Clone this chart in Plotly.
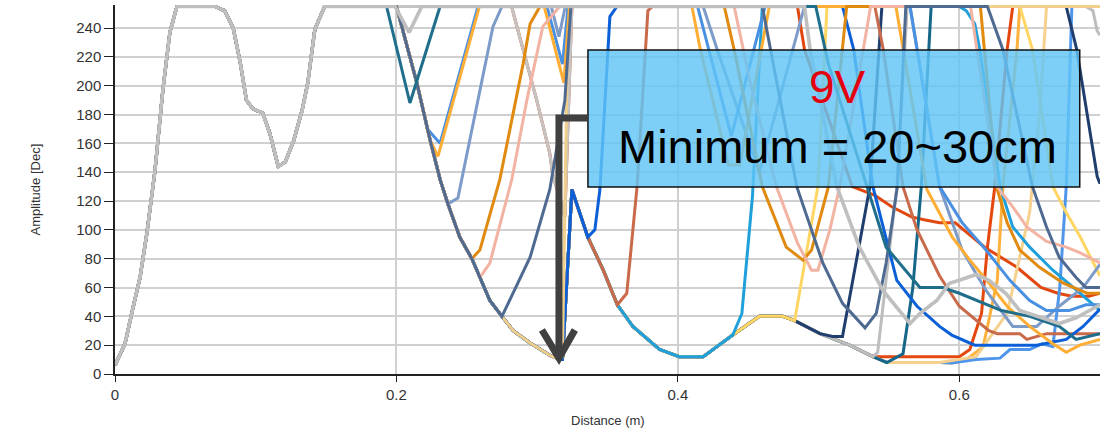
import plotly.graph_objects as go

# ---------------- data ----------------
# shared start of every trace (the grey curve)
BASE_X = [0, 0.0071, 0.0128, 0.0178, 0.0227, 0.0284, 0.034, 0.039, 0.044, 0.071, 0.078, 0.084,
          0.089, 0.0934, 0.098, 0.105, 0.110, 0.116, 0.121, 0.127, 0.133, 0.137, 0.142, 0.149]
BASE_Y = [6, 21, 46, 67, 98, 141, 197, 237, 255, 255, 252, 240,
          216, 190, 184, 181, 167, 144, 147, 162, 183, 202, 239, 255]

# first common descending envelope
ENV1_X = [0.200, 0.2145, 0.224, 0.231, 0.2366, 0.245, 0.2536, 0.2593, 0.2664, 0.275, 0.283, 0.295, 0.309, 0.316]
ENV1_Y = [255, 202, 162, 135, 118, 95, 80, 67, 51, 40, 30, 21.5, 13, 10]

# second common envelope (after the first minimum)
ENV2_X = [0.318, 0.3247, 0.336, 0.347, 0.357, 0.368, 0.387, 0.401, 0.418, 0.439, 0.458, 0.4746,
          0.483, 0.501, 0.522, 0.5386, 0.5485, 0.586, 0.5947]
ENV2_Y = [10, 128, 95, 72, 48, 33, 17, 12, 12, 27, 40, 40,
          37, 28, 20, 12, 8, 8, 7.6]

# individual tails
RED1_X = [0.2818, 0.29, 0.2997, 0.309, 0.311, 0.3197, 0.3247, 0.485, 0.49, 0.524, 0.54, 0.552, 0.566,
          0.575, 0.586, 0.597, 0.618, 0.641, 0.658, 0.67, 0.68, 0.692, 0.7]
RED1_Y = [255, 225, 190, 153, 139, 109, 255, 255, 225, 130, 124, 116, 109,
          107, 105, 105, 88, 74, 60, 56, 54, 54, 56]
GRAY3_X = [0.2818, 0.29, 0.2997, 0.309, 0.311, 0.3197, 0.3247, 0.7]
GRAY3_Y = [255, 225, 190, 153, 139, 109, 255, 255]
RED2_X = [0.5386, 0.586, 0.6, 0.6075, 0.6158, 0.62, 0.625, 0.634, 0.638, 0.7]
RED2_Y = [12, 12, 12, 17, 42, 88, 128, 225, 255, 255]
LORANGE2_X = [0.605, 0.617, 0.627, 0.631, 0.641, 0.643, 0.7]
LORANGE2_Y = [10, 19, 65, 130, 225, 255, 255]
LBLUE2_X = [0.612, 0.629, 0.636, 0.65, 0.659, 0.6665, 0.6714, 0.676, 0.68, 0.7]
LBLUE2_Y = [10, 11, 17, 17, 21, 19, 60, 130, 255, 255]
TAN2_X = [0.612, 0.634, 0.65, 0.657, 0.662, 0.7]
TAN2_Y = [12, 42, 112, 180, 255, 255]
TEAL2_X = [0.56, 0.567, 0.573, 0.58, 0.7]
TEAL2_Y = [14, 60, 130, 255, 255]
GRAY2_X = [0.542, 0.5556, 0.563, 0.69, 0.695, 0.698, 0.7]
GRAY2_Y = [15, 130, 255, 255, 252, 238, 235]
NAVY_X = [0.51, 0.517, 0.5365, 0.545, 0.676, 0.6835, 0.698, 0.7]
NAVY_Y = [26, 26, 130, 255, 255, 225, 137, 132]
YELLOW_X = [0.4995, 0.506, 0.643, 0.652, 0.6665, 0.676, 0.686, 0.7]
YELLOW_Y = [130, 255, 255, 225, 130, 112, 95, 68]
CYAN_X = [0.4455, 0.453, 0.46, 0.6, 0.605, 0.611, 0.6146, 0.629, 0.638, 0.65, 0.6665, 0.6835, 0.7]
CYAN_Y = [42, 123, 255, 255, 252, 243, 225, 130, 102, 88, 72, 58, 44]
TERRA_X = [0.3637, 0.371, 0.3787, 0.382, 0.54, 0.546, 0.56, 0.57, 0.586, 0.6, 0.621, 0.627, 0.643,
           0.648, 0.662, 0.7]
TERRA_Y = [56, 130, 252, 255, 255, 225, 130, 100, 68, 47, 30, 28, 28,
           24, 28, 28]
BLUE_X = [0.318, 0.3247, 0.336, 0.341, 0.3446, 0.3517, 0.3567, 0.517, 0.525, 0.5386, 0.5556, 0.57,
          0.586, 0.5947, 0.602, 0.611, 0.655, 0.676, 0.688, 0.7]
BLUE_Y = [10, 128, 95, 100, 128, 248, 255, 255, 225, 130, 65, 47,
          33, 27, 24, 20, 20, 24, 33, 45]
TAN_X = [0.318, 0.322, 0.7]
TAN_Y = [12, 255, 255]
STEEL_X = [0.2, 0.2145, 0.224, 0.231, 0.2366, 0.2437, 0.2686, 0.275, 0.31, 0.3155, 0.32, 0.418, 0.428,
           0.458, 0.49, 0.565, 0.586, 0.602, 0.619, 0.638, 0.655, 0.671, 0.688, 0.7]
STEEL_Y = [255, 202, 162, 135, 118, 122, 241, 255, 255, 234, 255, 255, 225,
           140, 255, 255, 130, 86, 58, 33, 33, 47, 60, 76]
LBLUE_X = [0.2, 0.2145, 0.222, 0.231, 0.258, 0.307, 0.318, 0.322, 0.414, 0.438, 0.462, 0.565, 0.586,
           0.602, 0.619, 0.636, 0.65, 0.662, 0.678, 0.69, 0.7]
LBLUE_Y = [255, 202, 170, 160, 255, 255, 215, 255, 255, 165, 255, 255, 130,
           105, 86, 65, 51, 44, 44, 48, 48]
LORANGE_X = [0.2, 0.2145, 0.224, 0.2295, 0.259, 0.305, 0.319, 0.323, 0.41, 0.416, 0.436, 0.444, 0.465,
             0.555, 0.577, 0.595, 0.6075, 0.6195, 0.634, 0.65, 0.6665, 0.676, 0.6856, 0.7]
LORANGE_Y = [255, 202, 162, 151, 255, 255, 202, 255, 255, 225, 145, 145, 255,
             255, 128, 95, 79, 65, 47, 33, 21, 15, 20, 24]
DORANGE_X = [0.2593, 0.2735, 0.29, 0.295, 0.302, 0.433, 0.44, 0.46, 0.477, 0.489, 0.495, 0.507, 0.52,
             0.615, 0.627, 0.634, 0.643, 0.657, 0.674, 0.691, 0.7]
DORANGE_Y = [86, 135, 215, 243, 255, 255, 225, 130, 88, 79, 86, 130, 255,
             255, 128, 105, 86, 74, 63, 56, 56]
SALMON_X = [0.2664, 0.282, 0.2927, 0.304, 0.316, 0.44, 0.452, 0.470, 0.485, 0.495, 0.4995, 0.508, 0.515,
            0.537, 0.608, 0.627, 0.638, 0.648, 0.662, 0.676, 0.686, 0.7]
SALMON_Y = [77, 135, 190, 241, 255, 255, 200, 130, 91, 72, 72, 100, 130,
            255, 255, 130, 116, 102, 92, 88, 84, 77]
SLATE_X = [0.295, 0.309, 0.3197, 0.324, 0.46, 0.4845, 0.503, 0.517, 0.533, 0.541, 0.548, 0.556, 0.562,
           0.62, 0.631, 0.652, 0.662, 0.671, 0.683, 0.69, 0.7]
SLATE_Y = [81, 128, 190, 255, 255, 130, 77, 49, 32, 42, 77, 130, 255,
           255, 225, 130, 102, 81, 67, 60, 60]
TEAL_X = [0.193, 0.2096, 0.231, 0.498, 0.507, 0.531, 0.548, 0.572, 0.588, 0.600, 0.630, 0.650, 0.671,
          0.683, 0.698, 0.700]
TEAL_Y = [255, 188, 255, 255, 215, 140, 88, 60, 60, 56, 44, 40, 33,
          24, 28, 28]
GRAY_X = [0.199, 0.209, 0.218, 0.49, 0.494, 0.513, 0.529, 0.5457, 0.565, 0.572, 0.584, 0.593, 0.6,
          0.612, 0.621, 0.633, 0.643, 0.655, 0.671, 0.683, 0.7]
GRAY_Y = [255, 237, 255, 255, 225, 130, 88, 58, 35, 42, 51, 63, 65,
          69, 65, 56, 44, 40, 35, 39, 48]

X_TICKS = [0, 0.2, 0.4, 0.6]
Y_TICKS = list(range(0, 241, 20))


def upto(xs, ys, xmax):
    keep = [(a, b) for a, b in zip(xs, ys) if a <= xmax + 1e-9]
    return [a for a, _ in keep], [b for _, b in keep]


def build(tail_x, tail_y, env=None):
    xs, ys = list(BASE_X), list(BASE_Y)
    if env is not None:
        which, xmax = env
        if which == 1:
            ex, ey = upto(ENV1_X, ENV1_Y, xmax)
        else:
            ex, ey = list(ENV1_X), list(ENV1_Y)
            e2x, e2y = upto(ENV2_X, ENV2_Y, xmax)
            ex += e2x
            ey += e2y
        xs += ex
        ys += ey
    return xs + tail_x, ys + tail_y


# drawing order: first is lowest
series = [
    ("#E2470F", RED1_X, RED1_Y, None, 3),
    ("#C4C4C4", GRAY3_X, GRAY3_Y, None, 3),
    ("#E4480E", RED2_X, RED2_Y, (2, 0.522), 3),
    ("#FFB13D", LORANGE2_X, LORANGE2_Y, (2, 0.5947), 3),
    ("#4F96EA", LBLUE2_X, LBLUE2_Y, (2, 0.5947), 3),
    ("#F5D08E", TAN2_X, TAN2_Y, (2, 0.586), 3),
    ("#15678A", TEAL2_X, TEAL2_Y, (2, 0.5485), 3),
    ("#BDBDBD", GRAY2_X, GRAY2_Y, (2, 0.5386), 3),
    ("#1F3E6D", NAVY_X, NAVY_Y, (2, 0.501), 3),
    ("#FFD663", YELLOW_X, YELLOW_Y, (2, 0.483), 3),
    ("#1FA0DA", CYAN_X, CYAN_Y, (2, 0.439), 3),
    ("#C96A4B", TERRA_X, TERRA_Y, (2, 0.357), 3),
    ("#0B5FD7", BLUE_X, BLUE_Y, (1, 0.316), 3),
    ("#EFCF8B", TAN_X, TAN_Y, (1, 0.316), 3),
    ("#7C9BC9", STEEL_X, STEEL_Y, None, 3),
    ("#4A90E2", LBLUE_X, LBLUE_Y, None, 3),
    ("#FFAE35", LORANGE_X, LORANGE_Y, None, 3),
    ("#E08A10", DORANGE_X, DORANGE_Y, (1, 0.2536), 3),
    ("#F3B3A3", SALMON_X, SALMON_Y, (1, 0.2593), 3),
    ("#4F6A91", SLATE_X, SLATE_Y, (1, 0.275), 3),
    ("#1F6E8C", TEAL_X, TEAL_Y, None, 3),
    ("#BFBFBF", GRAY_X, GRAY_Y, None, 3.6),
]

fig = go.Figure()
for color, tx, ty, env, w in series:
    xs, ys = build(tx, ty, env)
    fig.add_trace(go.Scatter(x=xs, y=ys, mode="lines",
                             line=dict(color=color, width=w),
                             showlegend=False, hoverinfo="skip"))

font_family = "Liberation Sans, Arial, sans-serif"

# callout box, text and bent arrow
fig.add_shape(type="rect", xref="x", yref="y", x0=0.3361, x1=0.6856, y0=129.7, y1=224.8,
              fillcolor="rgba(96,196,246,0.82)", line=dict(color="#111111", width=1.5),
              layer="above")
fig.add_shape(type="path", xref="x", yref="y",
              path="M 0.3361,177.6 L 0.3155,177.6 L 0.3155,12",
              line=dict(color="#404040", width=7), layer="above")
fig.add_shape(type="path", xref="x", yref="y",
              path="M 0.3034,30.5 L 0.3155,11.1 L 0.3268,30.5",
              line=dict(color="#404040", width=7), layer="above")

fig.add_annotation(x=0.5138, y=199, xref="x", yref="y", text="9V", showarrow=False,
                   font=dict(family=font_family, size=46, color="#E3000F"),
                   xanchor="center", yanchor="middle")
fig.add_annotation(x=0.5138, y=157.5, xref="x", yref="y", text="Minimum = 20~30cm", showarrow=False,
                   font=dict(family=font_family, size=47, color="#000000"),
                   xanchor="center", yanchor="middle")

# axis titles
fig.add_annotation(x=0.5, y=-0.125, xref="paper", yref="paper", text="Distance (m)", showarrow=False,
                   font=dict(family=font_family, size=13, color="#333333"),
                   xanchor="center", yanchor="middle")
fig.add_annotation(x=-0.0812, y=0.5, xref="paper", yref="paper", text="Amplitude [Dec]",
                   showarrow=False, textangle=-90,
                   font=dict(family=font_family, size=13, color="#333333"),
                   xanchor="center", yanchor="middle")

fig.update_layout(
    template="none",
    width=1107, height=433,
    margin=dict(l=115, r=7, t=5, b=59, pad=0),
    paper_bgcolor="white", plot_bgcolor="white",
    font=dict(family=font_family, size=15, color="#333333"),
    xaxis=dict(range=[0, 0.7], tickvals=X_TICKS, ticktext=[str(v) for v in X_TICKS],
               showgrid=True, gridcolor="#D0D0D0", gridwidth=1.5,
               showline=True, linecolor="#222222", linewidth=1.5,
               ticks="outside", ticklen=6, tickcolor="#222222",
               zeroline=False, automargin=False, fixedrange=True,
               tickfont=dict(size=15, color="#333333")),
    yaxis=dict(range=[0, 256], tickvals=Y_TICKS,
               showgrid=True, gridcolor="#D0D0D0", gridwidth=1.5,
               showline=True, linecolor="#222222", linewidth=1.5,
               ticks="outside", ticklen=9, tickcolor="#222222",
               zeroline=False, automargin=False, fixedrange=True,
               tickfont=dict(size=15, color="#333333")),
)

fig.write_html("out.html",
               config={"displayModeBar": False, "staticPlot": False},
               post_script="document.body.style.margin='0';document.body.style.padding='0';"
                           "document.documentElement.style.overflow='hidden';")
